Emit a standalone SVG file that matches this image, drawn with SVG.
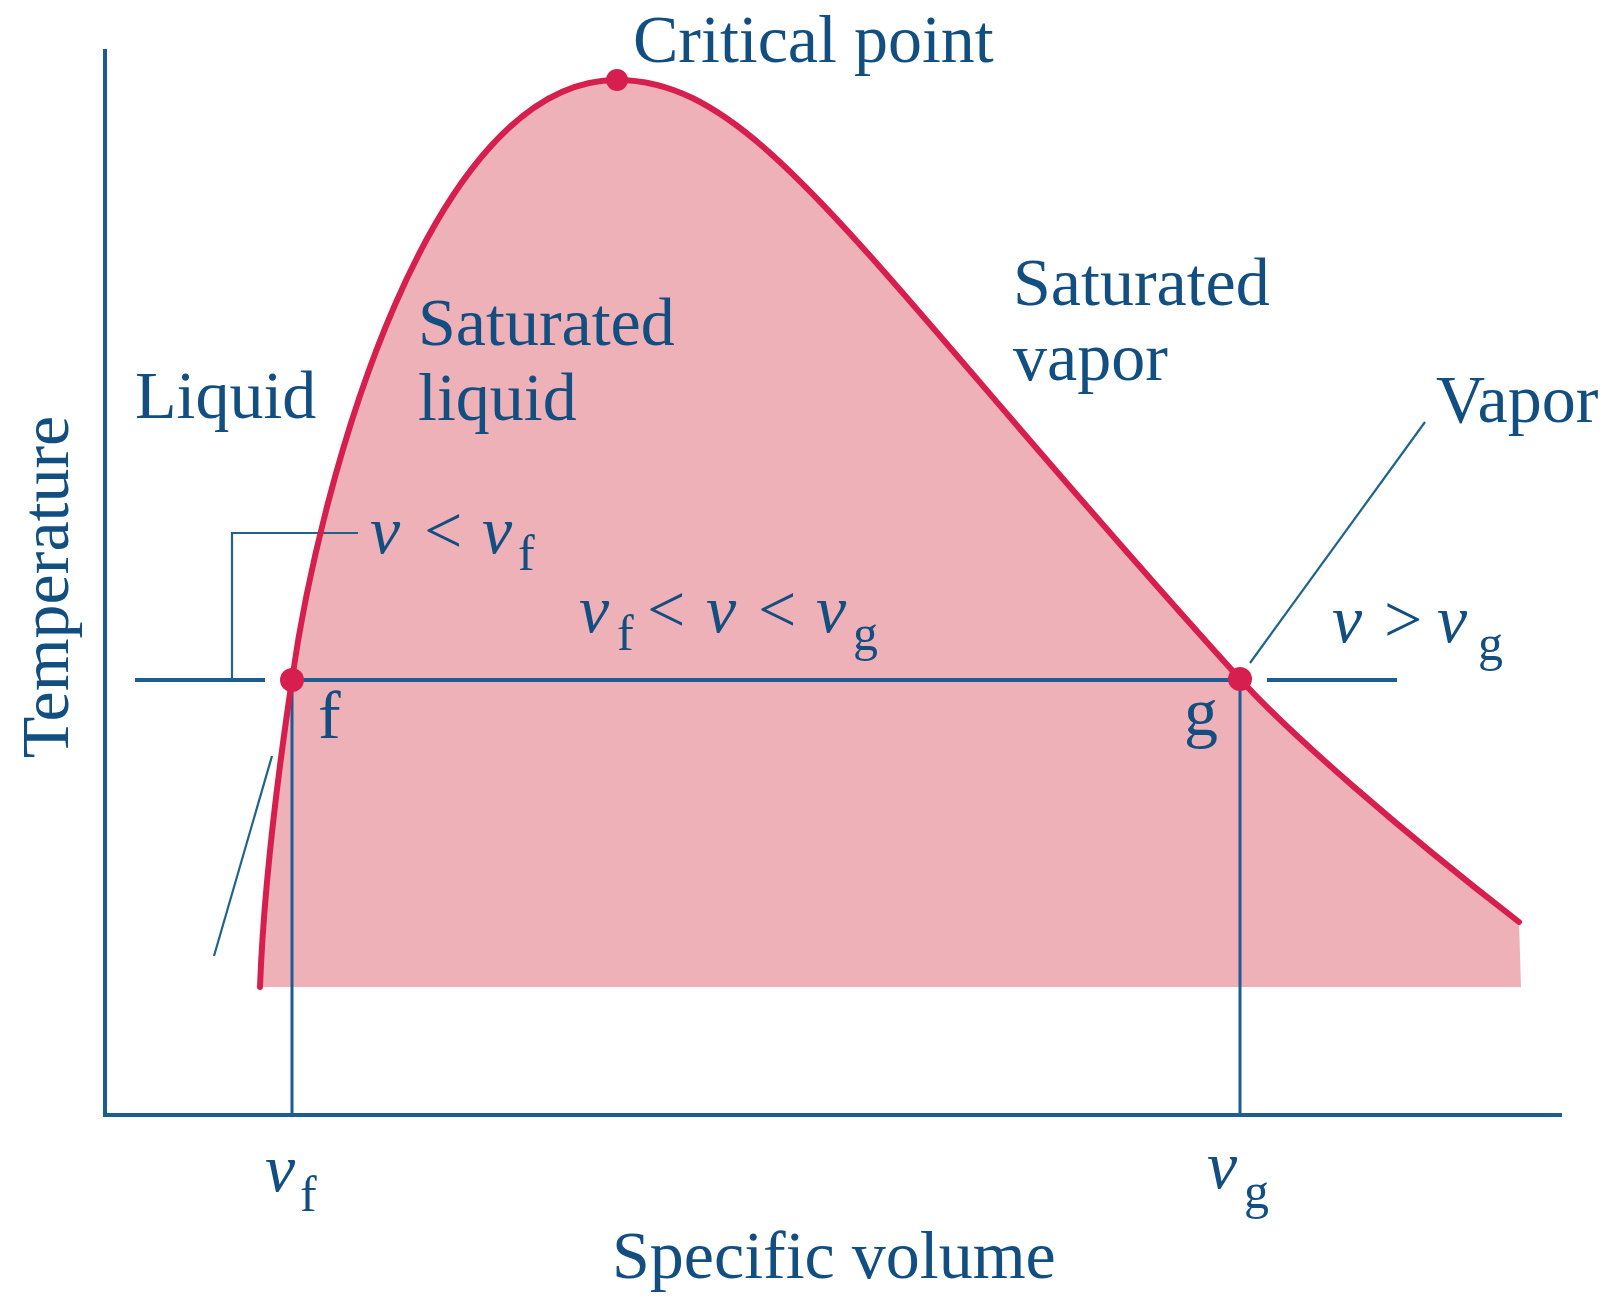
<svg xmlns="http://www.w3.org/2000/svg" width="1612" height="1297" viewBox="0 0 1612 1297">
<style>
.t{font-family:"Liberation Serif","Times New Roman",serif;font-size:68px;fill:#124E80}
.i{font-style:italic}
.s{font-size:50px}
.ax{stroke:#1C5C91;stroke-width:4;fill:none}
.ln{stroke:#1C5C91;stroke-width:3;fill:none}
.th{stroke:#1F6488;stroke-width:2.2;fill:none}
.cv{stroke:#D61F4E;stroke-width:6;fill:none;stroke-linecap:round}
.dot{fill:#D61F4E}
</style>
<rect width="1612" height="1297" fill="#ffffff"/>
<g id="dome">
<path d="M260,987 C264,880 280,760 292,680 C320,480 430,80 617,80 C760,80 860,260 1240,679 C1290,734 1400,830 1519,922 L1521,987 Z" fill="#EEB1B8"/>
</g>
<g id="connectors">
<line class="ax" x1="105" y1="49" x2="105" y2="1117"/>
<line class="ax" x1="103" y1="1115" x2="1562" y2="1115"/>
<line class="ln" x1="292" y1="680" x2="292" y2="1115"/>
<line class="ln" x1="1240" y1="679" x2="1240" y2="1115"/>
<line class="ax" x1="300" y1="680" x2="1232" y2="680"/>
<line class="ax" x1="135" y1="680" x2="265" y2="680"/>
<line class="ax" x1="1267" y1="680" x2="1397" y2="680"/>
<polyline class="th" points="232,680 232,533 358,533"/>
<line class="th" x1="1250" y1="663" x2="1425" y2="422"/>
<line class="th" x1="214" y1="956" x2="272" y2="756"/>
</g>
<g id="curve">
<path class="cv" d="M260,987 C264,880 280,760 292,680 C320,480 430,80 617,80 C760,80 860,260 1240,679 C1290,734 1400,830 1519,922"/>
</g>
<g id="critical-point">
<circle class="dot" cx="617" cy="80" r="11"/>
<text class="t" x="633" y="62">Critical point</text>
</g>
<g id="point-f">
<circle class="dot" cx="292" cy="680" r="12"/>
<text class="t" x="318" y="738">f</text>
</g>
<g id="point-g">
<circle class="dot" cx="1240" cy="679" r="12"/>
<text class="t" x="1184" y="735">g</text>
</g>
<g id="labels">
<text class="t" x="135" y="418">Liquid</text>
<text class="t" x="418" y="345">Saturated</text>
<text class="t" x="418" y="420">liquid</text>
<text class="t" x="1013" y="305">Saturated</text>
<text class="t" x="1013" y="380">vapor</text>
<text class="t" x="1436" y="422">Vapor</text>
<text class="t" transform="translate(68,587) rotate(-90)" text-anchor="middle">Temperature</text>
<text class="t" x="612" y="1278">Specific volume</text>
</g>
<g id="relations">
<text class="t"><tspan class="i" x="370" y="553">v</tspan><tspan x="424" y="553">&lt;</tspan><tspan class="i" x="482" y="553">v</tspan><tspan class="s" x="518" y="570">f</tspan></text>
<text class="t"><tspan class="i" x="579" y="632">v</tspan><tspan class="s" x="617" y="650">f</tspan><tspan x="647" y="632">&lt;</tspan><tspan class="i" x="706" y="632">v</tspan><tspan x="758" y="632">&lt;</tspan><tspan class="i" x="816" y="632">v</tspan><tspan class="s" x="853" y="650">g</tspan></text>
<text class="t"><tspan class="i" x="1332" y="642">v</tspan><tspan x="1384" y="642">&gt;</tspan><tspan class="i" x="1437" y="642">v</tspan><tspan class="s" x="1478" y="660">g</tspan></text>
<text class="t"><tspan class="i" x="265" y="1191">v</tspan><tspan class="s" x="300" y="1211">f</tspan></text>
<text class="t"><tspan class="i" x="1207" y="1188">v</tspan><tspan class="s" x="1244" y="1208">g</tspan></text>
</g>
</svg>
